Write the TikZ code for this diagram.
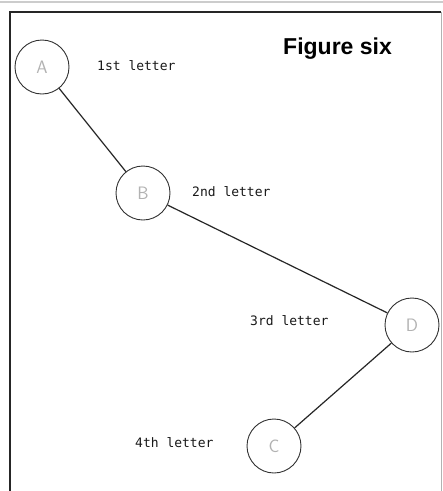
\documentclass[tikz,border=0pt]{standalone}
\usepackage{fontspec}
\newfontfamily\labelfont{DejaVu Sans Mono}
\newfontfamily\titlefont{Liberation Sans}
\begin{document}
\begin{tikzpicture}[x=1pt,y=-1pt,
  letter/.style={circle,draw=black!80,line width=0.9pt,minimum size=54pt,inner sep=0pt,
    font=\fontsize{18}{18}\selectfont\sffamily,text=black!30},
  caption/.style={font=\labelfont\fontsize{13}{13}\selectfont,text=black!90,inner sep=0pt},
  link/.style={line width=1.2pt,black!85}]
\useasboundingbox (0,0) rectangle (443,491);
\fill[white] (0,0) rectangle (443,491);
% faint edge along the top
\draw[black!20,line width=1.5pt] (0,2) -- (443,2);
% outer frame, running off the lower edge
\draw[line width=1.8pt,black!85] (10,500) -- (10,12) -- (441,12);
\draw[line width=1pt,black!30] (441,12) -- (441,500);
% letter circles
\node[letter] (a) at (42,67) {A};
\node[letter] (b) at (143,193) {B};
\node[letter] (d) at (412,325) {D};
\node[letter] (c) at (274,446) {C};
% connectors
\draw[link] (a) -- (b);
\draw[link] (b) -- (d);
\draw[link] (d) -- (c);
% captions
\node[caption,anchor=west] (l1) at (97,66) {1st letter};
\node[caption,anchor=west] (l2) at (192,192) {2nd letter};
\node[caption,anchor=west] (l3) at (250,321) {3rd letter};
\node[caption,anchor=west] (l4) at (135,443) {4th letter};
\node[font=\titlefont\bfseries\fontsize{23}{23}\selectfont,anchor=west,inner sep=0pt] (title) at (283,49) {Figure six};
\end{tikzpicture}
\end{document}
